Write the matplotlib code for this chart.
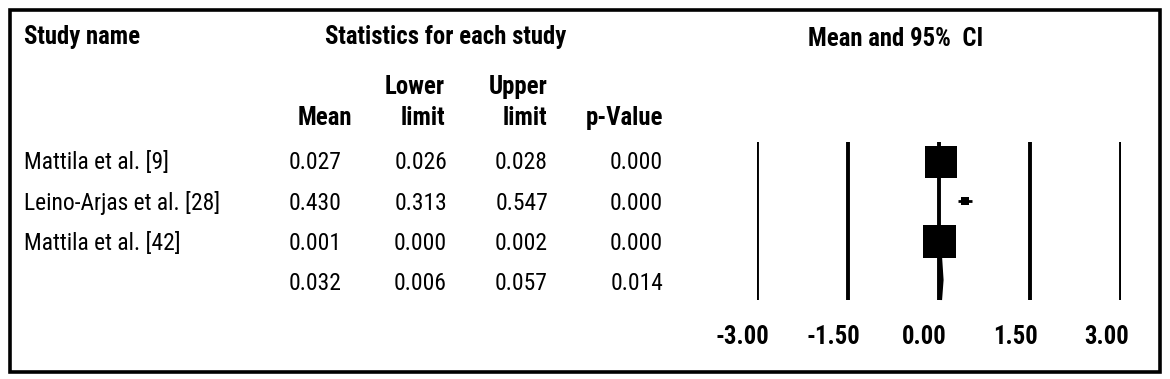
import matplotlib
matplotlib.use("Agg")
import matplotlib.pyplot as plt
from matplotlib import font_manager, transforms
from matplotlib.patches import Rectangle, Polygon
import numpy as np

# ---------------- data ----------------
studies = ["Mattila et al. [9]", "Leino-Arjas et al. [28]", "Mattila et al. [42]", ""]
means = [0.027, 0.430, 0.001, 0.032]
lowers = [0.026, 0.313, 0.000, 0.006]
uppers = [0.028, 0.547, 0.002, 0.057]
pvalues = [0.000, 0.000, 0.000, 0.014]
rel_weights = [48.0, 2.9, 49.1]          # relative weights -> box size
xticks = [-3.00, -1.50, 0.00, 1.50, 3.00]
col_headers_top = ["", "Lower", "Upper", ""]
col_headers_bot = ["Mean", "limit", "limit", "p-Value"]

# ---------------- font choice ----------------
prefs = ["Liberation Sans Narrow", "Nimbus Sans Narrow", "Arial Narrow", "Roboto Condensed",
         "PT Sans Narrow", "Open Sans Condensed", "Archivo Narrow", "Asap Condensed",
         "Barlow Semi Condensed", "Liberation Sans"]
weights_by_fam = {}
for f in font_manager.fontManager.ttflist:
    weights_by_fam.setdefault(f.name, set()).add(f.weight)
fam = "Liberation Sans"
for p in prefs:
    w = weights_by_fam.get(p)
    if w and any(x in (400, "normal", "regular") for x in w) and any(
            x in (700, "bold") for x in w):
        fam = p
        break
plt.rcParams["font.family"] = [fam, "DejaVu Sans"]

# ---------------- layout ----------------
W, H = 1170, 379
fig = plt.figure(figsize=(W / 100, H / 100), dpi=100)
fig.patch.set_facecolor("white")
renderer = fig.canvas.get_renderer()


def fit_size(text, target_px, weight):
    t = fig.text(0, 0, text, fontsize=18, fontweight=weight)
    w = t.get_window_extent(renderer).width
    t.remove()
    return 18 * target_px / w


FS = fit_size("Leino-Arjas et al. [28]", 197, "normal")
FSB = fit_size("Statistics for each study", 241, "bold")

left_px, right_px = 757.3, 1121.3
top_px, bot_px = 141.7, 300.0
row0_px, drow_px = 161.5, 39.5

ax = fig.add_axes([left_px / W, 1 - bot_px / H, (right_px - left_px) / W, (bot_px - top_px) / H])
ax.set_xlim(-3, 3)
ax.set_ylim((bot_px - row0_px) / drow_px, (top_px - row0_px) / drow_px)
ax.axis("off")

for t in xticks:
    ax.axvline(t, color="black", lw=2.8, solid_capstyle="butt", zorder=1)

maxw = max(rel_weights)
for i in range(3):
    ax.hlines(i, lowers[i], uppers[i], color="black", lw=2, zorder=2)
    side_px = 33 * np.sqrt(rel_weights[i] / maxw)
    ax.plot(means[i], i, marker="s", ms=side_px * 0.72, color="black",
            mec="black", mew=0, zorder=3, clip_on=False)

# summary diamond
ys = 3
diamond = Polygon([(lowers[3], ys), (means[3], ys - 23 / drow_px), (uppers[3], ys),
                   (means[3], ys + 20 / drow_px)], closed=True,
                  facecolor="black", edgecolor="black", lw=1.2, zorder=3, clip_on=False)
ax.add_patch(diamond)

# tick labels
tick_y = (337 - row0_px) / drow_px
tick_tr = transforms.offset_copy(ax.transData, fig=fig, x=-15, y=0, units="dots")
for t in xticks:
    ax.text(t, tick_y, f"{t:.2f}", transform=tick_tr, ha="center", va="center",
            fontsize=FSB, fontweight="bold", clip_on=False)


def fy(py):
    return 1 - py / H


# table text
num_right = [342, 447, 548, 663]
for i in range(4):
    ypx = 163 + 40 * i
    fig.text(23.7 / W, fy(ypx), studies[i], ha="left", va="center", fontsize=FS)
    vals = [means[i], lowers[i], uppers[i], pvalues[i]]
    for v, xr in zip(vals, num_right):
        fig.text(xr / W, fy(ypx), f"{v:.3f}", ha="right", va="center", fontsize=FS)

# headers
fig.text(23.7 / W, fy(37), "Study name", ha="left", va="center", fontsize=FSB, fontweight="bold")
fig.text(446 / W, fy(37), "Statistics for each study", ha="center", va="center",
         fontsize=FSB, fontweight="bold")
fig.text(896 / W, fy(39), "Mean and 95%  CI", ha="center", va="center",
         fontsize=FSB, fontweight="bold")
hdr_right = [352, 445, 547, 663]
for top, bot, xr in zip(col_headers_top, col_headers_bot, hdr_right):
    if top:
        fig.text(xr / W, fy(87), top, ha="right", va="center", fontsize=FSB, fontweight="bold")
    fig.text(xr / W, fy(118), bot, ha="right", va="center", fontsize=FSB, fontweight="bold")

# border
fig.add_artist(Rectangle((10 / W, 1 - 372 / H), 1150 / W, 362 / H, transform=fig.transFigure,
                         fill=False, lw=2.6, ec="black"))

fig.savefig("out.png", dpi=100, facecolor="white")
